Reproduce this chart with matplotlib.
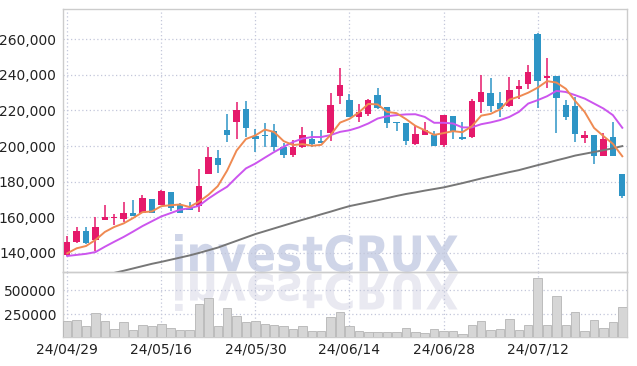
import numpy as np
import matplotlib
matplotlib.use("Agg")
import matplotlib.pyplot as plt
from matplotlib.ticker import FuncFormatter, FixedLocator
from matplotlib.textpath import TextPath
from matplotlib.patches import PathPatch
from matplotlib.font_manager import FontProperties
from matplotlib.transforms import Affine2D

# Данные свечей (тыс.)
opens = [138.9, 146.2, 152.3, 147.5, 158.7, 159.6, 159.2, 162.4, 162.4, 170.3,
         166.9, 174.2, 166.9, 165.4, 166.4, 184.5, 193.1, 209.0, 213.3, 220.7,
         205.6, 206.2, 208.4, 199.6, 195.0, 199.3, 203.9, 203.0, 207.1, 228.2,
         225.8, 216.4, 217.8, 228.8, 221.7, 213.6, 212.7, 201.0, 206.3, 206.2,
         200.6, 216.8, 204.9, 205.2, 224.8, 229.6, 224.0, 222.6, 232.2, 235.0,
         263.2, 238.3, 239.3, 223.0, 222.4, 204.7, 206.2, 194.6, 205.2, 184.3]
closes = [146.0, 152.3, 145.8, 154.6, 160.2, 160.2, 162.4, 160.7, 170.8, 162.6,
          174.8, 165.0, 162.6, 164.1, 177.6, 193.8, 189.5, 206.3, 220.2, 210.3,
          203.8, 205.8, 199.3, 195.0, 199.3, 206.2, 201.0, 201.8, 223.0, 234.2,
          216.4, 219.2, 225.8, 221.5, 213.1, 212.7, 203.0, 206.6, 209.1, 200.2,
          217.4, 208.6, 203.9, 225.2, 230.3, 222.6, 221.0, 231.4, 233.6, 241.5,
          236.6, 239.6, 227.1, 216.3, 207.0, 206.2, 194.6, 203.9, 194.6, 172.1]
highs = [149.5, 154.7, 154.4, 160.0, 166.7, 161.7, 168.4, 169.7, 172.4, 170.5,
         175.3, 174.4, 167.9, 168.8, 186.9, 199.3, 197.8, 218.3, 224.5, 225.6,
         209.4, 212.7, 212.3, 201.5, 203.4, 210.5, 208.4, 209.0, 229.6, 244.1,
         229.0, 223.6, 226.7, 232.4, 221.9, 213.8, 212.9, 211.8, 213.6, 208.6,
         217.6, 217.0, 213.3, 226.2, 240.1, 238.5, 230.6, 238.9, 237.0, 245.8,
         263.4, 249.7, 239.4, 226.1, 227.6, 208.6, 206.4, 207.5, 213.3, 184.5]
lows = [138.3, 145.4, 145.0, 141.3, 158.5, 155.5, 157.5, 160.5, 162.2, 162.4,
        166.7, 163.5, 162.3, 163.9, 163.2, 184.1, 185.0, 202.2, 203.9, 204.9,
        196.6, 199.3, 197.4, 193.1, 194.0, 198.7, 199.3, 201.5, 202.8, 223.9,
        216.1, 213.3, 216.8, 220.7, 210.3, 208.4, 200.4, 200.8, 206.2, 200.0,
        199.7, 203.8, 203.6, 204.8, 218.8, 219.2, 216.3, 222.0, 226.7, 232.0,
        221.3, 232.8, 207.1, 214.6, 202.4, 201.8, 189.7, 194.3, 194.3, 170.7]

# Скользящие средние (тыс.)
ma5 = [139.8, 142.6, 143.9, 147.3, 151.8, 154.6, 156.6, 159.6, 162.9, 163.3,
       166.3, 166.8, 167.2, 165.8, 168.8, 172.6, 177.5, 186.3, 197.5, 204.0,
       206.0, 209.3, 207.9, 202.8, 200.6, 201.1, 200.2, 200.7, 206.3, 213.2,
       215.3, 218.9, 223.7, 223.4, 219.2, 218.5, 215.2, 211.4, 208.9, 206.3,
       207.3, 208.4, 207.8, 211.1, 217.1, 218.1, 220.6, 226.1, 227.8, 230.0,
       232.8, 236.5, 235.7, 232.2, 225.3, 219.2, 210.2, 205.6, 201.3, 194.3]
ma20 = [138.3, 138.9, 139.5, 140.5, 143.5, 146.3, 149.0, 152.0, 155.1, 157.8,
        160.5, 162.4, 164.3, 165.1, 166.5, 170.5, 174.0, 177.2, 182.5, 187.5,
        190.2, 193.5, 196.7, 199.6, 202.3, 204.2, 205.1, 205.1, 206.2, 208.0,
        208.9, 210.5, 212.7, 215.5, 216.8, 217.4, 217.8, 217.9, 216.4, 213.1,
        213.1, 212.7, 210.5, 210.5, 212.3, 213.3, 214.6, 216.4, 219.2, 223.9,
        225.8, 228.0, 231.0, 230.4, 228.6, 226.7, 223.9, 221.1, 217.4, 210.3]
ma60_start = 5
ma60 = [128.8, 130.0, 131.3, 132.6, 133.9, 135.0, 136.2, 137.4, 138.6, 140.0,
        141.5, 143.0, 144.9, 146.8, 148.7, 150.6, 152.2, 153.8, 155.4, 157.0,
        158.6, 160.1, 161.7, 163.2, 164.8, 166.3, 167.4, 168.5, 169.6, 170.8,
        172.0, 173.1, 174.0, 175.0, 175.9, 176.8, 178.0, 179.2, 180.5, 181.8,
        183.0, 184.2, 185.4, 186.5, 187.9, 189.3, 190.6, 192.0, 193.3, 194.7,
        195.7, 196.7, 197.7, 198.8, 200.0]

volumes = [183100, 193400, 131700, 265400, 183100, 100800, 172800, 90500, 142000, 131700,
           152300, 111400, 90500, 90500, 358000, 419800, 131700, 316900, 234600, 172800,
           183100, 152300, 142000, 131700, 100800, 131700, 80200, 80200, 224300, 275700,
           131700, 80200, 70000, 70000, 70000, 70000, 111400, 70000, 59700, 100800,
           80200, 80200, 49400, 142000, 183100, 90500, 100800, 203700, 90500, 142000,
           625500, 142000, 440300, 142000, 275700, 80200, 193400, 111400, 172800, 327200]

tick_pos = [0, 10, 20, 30, 40, 50]
tick_labels = ['24/04/29', '24/05/16', '24/05/30', '24/06/14', '24/06/28', '24/07/12']

UP = '#e5196b'
DOWN = '#2e95c6'
GRID = '#c3c7da'

plt.rcParams['font.family'] = ['DejaVu Sans']

fig = plt.figure(figsize=(6.37, 3.66), dpi=100)
ax = fig.add_axes([63 / 637, 1 - 272 / 366, 564 / 637, 263 / 366])
axv = fig.add_axes([63 / 637, 1 - 337 / 366, 564 / 637, 65 / 366], sharex=ax)
for a in (ax, axv):
    a.set_facecolor('none')
    for s in a.spines.values():
        s.set_color('#cccccc')
        s.set_linewidth(1)
    a.grid(True, linestyle=(0, (1, 2)), color=GRID, linewidth=0.9)
    a.tick_params(length=0, labelsize=10, colors='#222222', pad=5)
    a.set_axisbelow(True)

x = np.arange(len(closes))
o = np.array(opens) * 1000
c = np.array(closes) * 1000
h = np.array(highs) * 1000
l = np.array(lows) * 1000
colors = [UP if cc >= oo else DOWN for oo, cc in zip(o, c)]

ax.vlines(x, l, h, colors=colors, linewidth=1.1, zorder=3)
body = np.maximum(np.abs(c - o), 400)
ax.bar(x, body, bottom=np.minimum(o, c), width=0.68, color=colors, zorder=4)

ax.plot(x, np.array(ma20) * 1000, color='#cc55ee', linewidth=1.4, zorder=5)
ax.plot(x, np.array(ma5) * 1000, color='#ef8a52', linewidth=1.4, zorder=6)
ax.plot(x[ma60_start:], np.array(ma60) * 1000, color='#777777', linewidth=1.4, zorder=5)

ax.set_ylim(129300, 277000)
ax.set_yticks(range(140000, 260001, 20000))
ax.yaxis.set_major_formatter(FuncFormatter(lambda v, p: f'{int(v):,}'))
ax.tick_params(axis='x', labelbottom=False)
ax.set_xlim(-0.45, 59.5)
ax.xaxis.set_major_locator(FixedLocator(tick_pos))

axv.bar(x, volumes, width=0.9, color='#d6d6d6', edgecolor='#b5b5b5', linewidth=0.6, zorder=3)
axv.set_ylim(15000, 687000)
axv.set_yticks([250000, 500000])
axv.yaxis.set_major_formatter(FuncFormatter(lambda v, p: f'{int(v)}'))
axv.set_xticks(tick_pos)
axv.set_xticklabels(tick_labels)
axv.tick_params(axis='x', pad=4)

# Водяной знак с отражением
tp = TextPath((0, 0), 'investCRUX', size=100,
              prop=FontProperties(family='DejaVu Sans', weight='bold'))
ext = tp.get_extents()
sx = 283 / ext.width
tr_main = Affine2D().translate(-ext.x0, -ext.y0).scale(sx, 38 / ext.height).translate(175, 366 - 272)
tr_ref = Affine2D().translate(-ext.x0, -ext.y0).scale(sx, -38 / ext.height).translate(175, 366 - 273)
fig.patches.append(PathPatch(tp, transform=tr_main, facecolor='#cfd5e8', edgecolor='none',
                             zorder=-1, figure=fig))
fig.patches.append(PathPatch(tp, transform=tr_ref, facecolor='#e9e9f1', edgecolor='none',
                             zorder=-1, figure=fig))

fig.savefig('out.png', dpi=100)
